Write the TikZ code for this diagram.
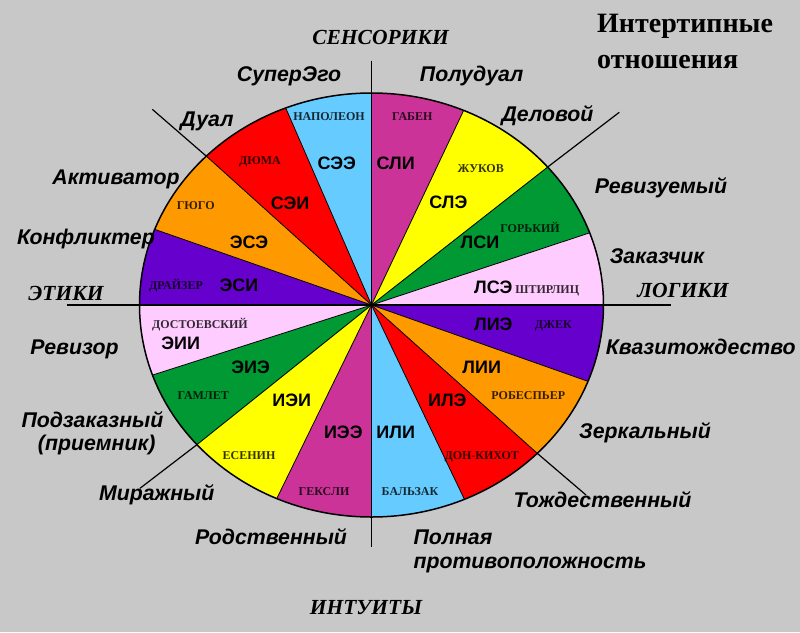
\documentclass[tikz,border=0pt]{standalone}
\usepackage{fontspec}
\setmainfont{Liberation Serif}
\setsansfont{Liberation Sans}
\definecolor{bgc}{HTML}{C8C8C8}
\definecolor{cmag}{HTML}{CC3399}
\definecolor{cyel}{HTML}{FFFF00}
\definecolor{cgrn}{HTML}{009933}
\definecolor{cpnk}{HTML}{FFCCFF}
\definecolor{cpur}{HTML}{6600CC}
\definecolor{cora}{HTML}{FF9900}
\definecolor{cred}{HTML}{FF0000}
\definecolor{cblu}{HTML}{66CCFF}
\begin{document}
\begin{tikzpicture}[x=1pt,y=-1pt,
  code/.style={font=\sffamily\bfseries\fontsize{18}{20}\selectfont, anchor=base, yshift=-6.4pt, inner sep=0pt},
  pname/.style={font=\rmfamily\bfseries\fontsize{12}{14}\selectfont, anchor=base, yshift=-4pt, inner sep=0pt, text opacity=0.8},
  rel/.style={font=\sffamily\bfseries\itshape\fontsize{21.3}{24}\selectfont, anchor=base, inner sep=0pt},
  relw/.style={rel, anchor=base west},
  axis/.style={font=\rmfamily\bfseries\itshape\fontsize{21.5}{24}\selectfont, anchor=base, inner sep=0pt},
  ttl/.style={font=\rmfamily\bfseries\fontsize{28}{32}\selectfont, anchor=base west, inner sep=0pt},
  sepline/.style={line width=0.8pt},
  extline/.style={line width=1.2pt}]
\fill[bgc] (0,0) rectangle (800,632);
\useasboundingbox (0,0) rectangle (800,632);
\coordinate (C) at (371.5,305);
% sectors
\foreach \a/\b/\c in {90/66.6/cmag, 66.6/40.6/cyel, 40.6/19.9/cgrn, 19.9/0/cpnk,
  0/-21.1/cpur, -21.1/-44.4/cora, -44.4/-66.4/cred, -66.4/-90/cblu,
  -90/-114.1/cmag, -114.1/-138.8/cyel, -138.8/-160.7/cgrn, -160.7/-180/cpnk,
  -180/-200.9/cpur, -200.9/-224.6/cora, -224.6/-248.3/cred, -248.3/-270/cblu}
  \fill[\c] (C) -- plot[domain=\a:\b, samples=25] ({371.5+232*cos(\x)},{305-212*sin(\x)}) -- cycle;
% sector boundaries
\foreach \a in {66.6,40.6,19.9,-21.1,-44.4,-66.4,-114.1,-138.8,-160.7,-200.9,-224.6,-248.3}
  \draw[sepline] (C) -- ({371.5+232*cos(\a)},{305-212*sin(\a)});
% axes and diagonals
\coordinate (vt) at (371.5,60.7);
\coordinate (vb) at (371.5,547);
\coordinate (hl) at (67,305);
\coordinate (hr) at (671,305);
\coordinate (dtl) at (152.3,109.3);
\coordinate (dtlr) at ({371.5+232*cos(135.4)},{305-212*sin(135.4)});
\coordinate (dtr) at (619.3,112.3);
\coordinate (dtrr) at ({371.5+232*cos(40.6)},{305-212*sin(40.6)});
\coordinate (dbl) at (140,488.3);
\coordinate (dblr) at ({371.5+232*cos(-138.8)},{305-212*sin(-138.8)});
\coordinate (dbr) at (586,495);
\coordinate (dbrr) at ({371.5+232*cos(-44.4)},{305-212*sin(-44.4)});
\draw[extline] (vt) -- (vb);
\draw[extline] (hl) -- (hr);
\draw[extline] (dtl) -- (dtlr);
\draw[extline] (dtr) -- (dtrr);
\draw[extline] (dbl) -- (dblr);
\draw[extline] (dbr) -- (dbrr);
% outline
\draw[line width=1.5pt] (C) ellipse [x radius=232, y radius=212];
% codes
\node[code] (see) at (336.7,163.3) {СЭЭ};
\node[code] (sei) at (290,203.3) {СЭИ};
\node[code] (ese) at (249,242.3) {ЭСЭ};
\node[code] (esi) at (239,285) {ЭСИ};
\node[code] (sli) at (395.7,163.3) {СЛИ};
\node[code] (sle) at (448.3,202.3) {СЛЭ};
\node[code] (lsi) at (480,242.3) {ЛСИ};
\node[code] (lse) at (493.3,286.7) {ЛСЭ};
\node[code] (eii) at (180.7,343.3) {ЭИИ};
\node[code] (eie) at (250.7,366.7) {ЭИЭ};
\node[code] (iei) at (291.7,400) {ИЭИ};
\node[code] (iee) at (343.3,432.3) {ИЭЭ};
\node[code] (lie) at (493.3,324) {ЛИЭ};
\node[code] (lii) at (481.7,366.7) {ЛИИ};
\node[code] (ile) at (447.3,400) {ИЛЭ};
\node[code] (ili) at (395.7,432.3) {ИЛИ};
% names
\node[pname] (n1) at (329,116.7) {НАПОЛЕОН};
\node[pname] (n2) at (260,160) {ДЮМА};
\node[pname] (n3) at (195.7,205.7) {ГЮГО};
\node[pname] (n4) at (176,285) {ДРАЙЗЕР};
\node[pname] (n5) at (412.3,116.7) {ГАБЕН};
\node[pname] (n6) at (480.7,168.3) {ЖУКОВ};
\node[pname] (n7) at (530,228.3) {ГОРЬКИЙ};
\node[pname] (n8) at (547.3,289.3) {ШТИРЛИЦ};
\node[pname] (n9) at (200,324) {ДОСТОЕВСКИЙ};
\node[pname] (n10) at (203.3,395.7) {ГАМЛЕТ};
\node[pname] (n11) at (249,455) {ЕСЕНИН};
\node[pname] (n12) at (324,491.7) {ГЕКСЛИ};
\node[pname] (n13) at (553.3,324) {ДЖЕК};
\node[pname] (n14) at (528.3,395) {РОБЕСПЬЕР};
\node[pname] (n15) at (481.7,455.7) {ДОН-КИХОТ};
\node[pname] (n16) at (410,491.7) {БАЛЬЗАК};
% relations
\node[rel] (r1) at (289,81.9) {СуперЭго};
\node[rel] (r2) at (207,126) {Дуал};
\node[rel] (r3) at (471.7,81.9) {Полудуал};
\node[rel] (r4) at (547.5,121) {Деловой};
\node[rel] (r5) at (116,184.5) {Активатор};
\node[rel] (r6) at (86,244.5) {Конфликтер};
\node[rel] (r7) at (74.5,354.5) {Ревизор};
\node[rel] (r8) at (92.5,427.5) {Подзаказный};
\node[rel] (r9) at (96.7,450.5) {(приемник)};
\node[rel] (r10) at (156.7,500.2) {Миражный};
\node[rel] (r11) at (661,193.5) {Ревизуемый};
\node[rel] (r12) at (657,263) {Заказчик};
\node[rel] (r13) at (700.8,354.5) {Квазитождество};
\node[rel] (r14) at (645,438) {Зеркальный};
\node[rel] (r15) at (602.5,507) {Тождественный};
\node[rel] (r16) at (271,544.5) {Родственный};
\node[relw] (r17) at (413.3,544.5) {Полная};
\node[relw] (r18) at (413.3,568.3) {противоположность};
% axes labels
\node[axis] (a1) at (380.5,44.4) {СЕНСОРИКИ};
\node[axis] (a2) at (66,300.4) {ЭТИКИ};
\node[axis] (a3) at (683,297.1) {ЛОГИКИ};
\node[axis] (a4) at (366,614.4) {ИНТУИТЫ};
% title
\node[ttl] (t1) at (597,32.7) {Интертипные};
\node[ttl] (t2) at (597,68.3) {отношения};
\end{tikzpicture}
\end{document}
